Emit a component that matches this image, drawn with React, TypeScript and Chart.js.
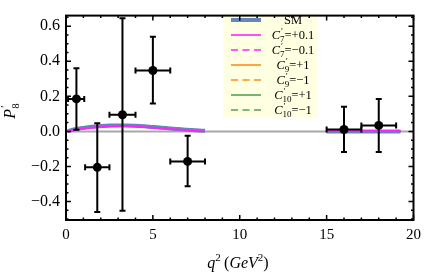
import React, { useEffect, useRef } from "react";
import { Chart, registerables } from "chart.js";

Chart.register(...registerables);

const SERIF = '"Liberation Serif", "Times New Roman", Times, serif';

// ---- axis ticks ----
const xTickValues = [0, 5, 10, 15, 20];
const yTickValues = [-0.4, -0.2, 0.0, 0.2, 0.4, 0.6];

// ---- theory curves (q^2 grid, gap between 8 and 15) ----
const qTheory = [0.1, 0.5, 1, 1.5, 2, 2.5, 3, 3.5, 4, 4.5, 5, 5.5, 6, 6.5, 7, 7.5, 8, 11.5, 15, 16, 17, 18, 19, 19.25];
const smP8 = [0.002, 0.012, 0.020, 0.026, 0.030, 0.033, 0.034, 0.034, 0.032, 0.029, 0.025, 0.021, 0.017, 0.013, 0.010, 0.006, 0.003, null, 0.000, 0.000, 0.000, 0.000, 0.000, 0.000];
const c7PlusP8 = [-0.002, 0.007, 0.015, 0.021, 0.025, 0.028, 0.029, 0.029, 0.027, 0.024, 0.021, 0.017, 0.013, 0.010, 0.007, 0.003, 0.000, null, 0.003, 0.003, 0.003, 0.003, 0.003, 0.003];
const c7MinusP8 = [-0.001, 0.008, 0.016, 0.022, 0.026, 0.029, 0.030, 0.030, 0.028, 0.025, 0.022, 0.018, 0.014, 0.011, 0.007, 0.004, 0.001, null, 0.002, 0.002, 0.002, 0.002, 0.002, 0.002];
const c9PlusP8 = [0.003, 0.014, 0.022, 0.028, 0.032, 0.035, 0.036, 0.036, 0.034, 0.031, 0.027, 0.023, 0.019, 0.015, 0.011, 0.007, 0.004, null, 0.000, 0.000, 0.000, 0.000, 0.000, 0.000];
const c9MinusP8 = [0.002, 0.011, 0.020, 0.026, 0.030, 0.033, 0.034, 0.033, 0.031, 0.028, 0.025, 0.021, 0.017, 0.013, 0.009, 0.006, 0.003, null, 0.000, 0.000, 0.000, 0.000, 0.000, 0.000];
const c10PlusP8 = [0.004, 0.014, 0.023, 0.029, 0.033, 0.036, 0.037, 0.036, 0.034, 0.031, 0.027, 0.023, 0.019, 0.015, 0.011, 0.007, 0.004, null, 0.000, 0.000, 0.000, 0.000, 0.000, 0.000];
const c10MinusP8 = [0.002, 0.011, 0.020, 0.026, 0.030, 0.033, 0.034, 0.034, 0.032, 0.029, 0.025, 0.021, 0.017, 0.013, 0.010, 0.006, 0.003, null, 0.000, 0.000, 0.000, 0.000, 0.000, 0.000];

const seriesValues = [smP8, c7PlusP8, c7MinusP8, c9PlusP8, c9MinusP8, c10PlusP8, c10MinusP8];
const seriesSub = [null, "7", "7", "9", "9", "10", "10"];
const seriesVal = [null, "+0.1", "\u22120.1", "+1", "\u22121", "+1", "\u22121"];
const seriesColors = ["#6686BA", "#FF22FF", "#FF22FF", "#FF8C1E", "#FF8C1E", "#55A055", "#55A055"];
const seriesWidths = [4, 1.6, 1.6, 1.6, 1.6, 1.6, 1.6];
const seriesDashed = [false, false, true, false, true, false, true];
const seriesOrder = [8, 6, 7, 10, 11, 12, 13];

// ---- measurements ----
const binCenter = [0.6, 1.8, 3.25, 5.0, 7.0, 16.0, 18.0];
const binLow = [0.12, 1.1, 2.5, 4.0, 6.0, 15.0, 17.0];
const binHigh = [1.05, 2.5, 4.0, 6.0, 8.0, 17.0, 19.0];
const p8Measured = [0.185, -0.205, 0.095, 0.347, -0.171, 0.011, 0.034];
const p8ErrTop = [0.36, 0.046, 0.645, 0.539, -0.025, 0.141, 0.184];
const p8ErrBottom = [0.010, -0.46, -0.452, 0.159, -0.313, -0.118, -0.118];

function labelFor(i: number) {
  return seriesSub[i] ? `C\u2032${seriesSub[i]}=${seriesVal[i]}` : "SM";
}

const decorPlugin = {
  id: "decor",
  beforeDatasetsDraw(chart: any) {
    const { ctx, chartArea: a, scales } = chart;
    const y0 = scales.y.getPixelForValue(0);
    ctx.save();
    ctx.strokeStyle = "#A8A8A8";
    ctx.lineWidth = 2;
    ctx.beginPath();
    ctx.moveTo(a.left, y0);
    ctx.lineTo(a.right, y0);
    ctx.stroke();
    ctx.restore();
  },
  afterDatasetsDraw(chart: any) {
    const { ctx, chartArea: a, scales } = chart;
    const xs = scales.x, ys = scales.y;
    ctx.save();
    // error bars
    ctx.strokeStyle = "#000";
    ctx.lineWidth = 2;
    ctx.setLineDash([]);
    const cap = 3;
    for (let i = 0; i < binCenter.length; i++) {
      const px = xs.getPixelForValue(binCenter[i]);
      const py = ys.getPixelForValue(p8Measured[i]);
      const yt = ys.getPixelForValue(p8ErrTop[i]);
      const yb = ys.getPixelForValue(p8ErrBottom[i]);
      const xl = xs.getPixelForValue(binLow[i]);
      const xr = xs.getPixelForValue(binHigh[i]);
      ctx.beginPath();
      ctx.moveTo(px, yt); ctx.lineTo(px, yb);
      ctx.moveTo(px - cap, yt); ctx.lineTo(px + cap, yt);
      ctx.moveTo(px - cap, yb); ctx.lineTo(px + cap, yb);
      ctx.moveTo(xl, py); ctx.lineTo(xr, py);
      ctx.moveTo(xl, py - cap); ctx.lineTo(xl, py + cap);
      ctx.moveTo(xr, py - cap); ctx.lineTo(xr, py + cap);
      ctx.stroke();
    }

    // legend
    const lx = 223, ly = 13, lw = 95, lh = 105;
    ctx.fillStyle = "#FFFFE2";
    ctx.fillRect(lx, ly, lw, lh);
    const n = seriesValues.length;
    for (let i = 0; i < n; i++) {
      const ds = chart.data.datasets[i];
      const yy = 20 + 15 * i;
      ctx.strokeStyle = ds.borderColor;
      ctx.lineWidth = ds.borderWidth;
      ctx.setLineDash(ds.borderDash || []);
      ctx.lineCap = "butt";
      ctx.beginPath();
      ctx.moveTo(231, yy);
      ctx.lineTo(261, yy);
      ctx.stroke();
      ctx.setLineDash([]);
      ctx.fillStyle = "#000";
      ctx.textBaseline = "alphabetic";
      ctx.textAlign = "left";
      const cx = 293;
      const base = yy + 4;
      if (!seriesSub[i]) {
        ctx.font = `12.5px ${SERIF}`;
        const w = ctx.measureText("SM").width;
        ctx.fillText("SM", cx - w / 2, base);
      } else {
        const fC = `italic 12.5px ${SERIF}`;
        const fS = `9px ${SERIF}`;
        const fN = `12.5px ${SERIF}`;
        ctx.font = fC; const wC = ctx.measureText("C").width;
        ctx.font = fS; const wP = ctx.measureText("\u2032").width + 1; const wSub = ctx.measureText(seriesSub[i] as string).width;
        const wStack = Math.max(wP, wSub);
        const rest = "=" + seriesVal[i];
        ctx.font = fN; const wR = ctx.measureText(rest).width;
        let x = cx - (wC + wStack + wR) / 2;
        ctx.font = fC; ctx.fillText("C", x, base); x += wC;
        ctx.font = fS; ctx.fillText("\u2032", x + 1, base - 5); ctx.fillText(seriesSub[i] as string, x, base + 3); x += wStack;
        ctx.font = fN; ctx.fillText(rest, x, base);
      }
    }

    // frame
    ctx.strokeStyle = "#000";
    ctx.lineWidth = 2;
    ctx.strokeRect(a.left, a.top, a.right - a.left, a.bottom - a.top);
    // ticks
    ctx.lineWidth = 1.5;
    ctx.beginPath();
    for (let v = 0; v <= 20; v += 1) {
      const px = xs.getPixelForValue(v);
      const len = v % 5 === 0 ? 5 : 2.5;
      ctx.moveTo(px, a.bottom); ctx.lineTo(px, a.bottom - len);
      ctx.moveTo(px, a.top); ctx.lineTo(px, a.top + len);
    }
    for (let k = -10; k <= 13; k++) {
      const v = k * 0.05;
      const py = ys.getPixelForValue(v);
      if (py < a.top || py > a.bottom) continue;
      const len = k % 4 === 0 ? 5 : 2.5;
      ctx.moveTo(a.left, py); ctx.lineTo(a.left + len, py);
      ctx.moveTo(a.right, py); ctx.lineTo(a.right - len, py);
    }
    ctx.stroke();
    ctx.restore();
  },
  afterDraw(chart: any) {
    const { ctx } = chart;
    ctx.save();
    ctx.fillStyle = "#000";
    ctx.textBaseline = "alphabetic";
    ctx.textAlign = "left";
    // x title: q^2 (GeV^2)
    const parts = [
      { t: "q", f: `italic 16px ${SERIF}`, dy: 0 },
      { t: "2", f: `11px ${SERIF}`, dy: -7 },
      { t: "\u2009(", f: `16px ${SERIF}`, dy: 0 },
      { t: "GeV", f: `italic 16px ${SERIF}`, dy: 0 },
      { t: "2", f: `11px ${SERIF}`, dy: -7 },
      { t: ")", f: `16px ${SERIF}`, dy: 0 },
    ];
    let total = 0;
    for (const p of parts) { ctx.font = p.f; total += ctx.measureText(p.t).width; }
    let x = 238 - total / 2;
    const base = 268;
    for (const p of parts) { ctx.font = p.f; ctx.fillText(p.t, x, base + p.dy); x += ctx.measureText(p.t).width; }

    // y title: P'_8 rotated
    ctx.translate(15, 111);
    ctx.rotate(-Math.PI / 2);
    ctx.font = `italic 16px ${SERIF}`;
    const wP = ctx.measureText("P").width;
    ctx.font = `11px ${SERIF}`;
    const w8 = ctx.measureText("8").width;
    const x0 = -(wP + w8) / 2;
    ctx.font = `italic 16px ${SERIF}`;
    ctx.fillText("P", x0, 0);
    ctx.font = `11px ${SERIF}`;
    ctx.fillText("\u2032", x0 + wP + 1, -7);
    ctx.fillText("8", x0 + wP, 4);
    ctx.restore();
  },
};

export default function App() {
  const ref = useRef<HTMLCanvasElement>(null);
  useEffect(() => {
    const curveDatasets = seriesValues.map((vals, i) => ({
      type: "line" as const,
      label: labelFor(i),
      data: qTheory.map((q, j) => ({ x: q, y: vals[j] })),
      borderColor: seriesColors[i],
      borderWidth: seriesWidths[i],
      borderDash: seriesDashed[i] ? [7, 4.5] : [],
      pointRadius: 0,
      tension: 0.4,
      spanGaps: false,
      fill: false,
      order: seriesOrder[i],
    }));
    const pointsDataset = {
      type: "scatter" as const,
      label: "data",
      data: binCenter.map((q, i) => ({ x: q, y: p8Measured[i] })),
      backgroundColor: "#000",
      borderColor: "#000",
      borderWidth: 0,
      pointRadius: 4.5,
      showLine: false,
      order: 0,
    };
    const chart = new Chart(ref.current as HTMLCanvasElement, {
      type: "line",
      data: { datasets: [...curveDatasets, pointsDataset] as any },
      options: {
        animation: false,
        responsive: false,
        maintainAspectRatio: false,
        layout: { padding: { top: 2, right: 8, left: 0, bottom: 0 } },
        plugins: { legend: { display: false }, tooltip: { enabled: false } },
        scales: {
          x: {
            type: "linear",
            min: 0,
            max: 20,
            grid: { display: false, drawTicks: false },
            border: { display: false },
            ticks: { color: "#000", font: { family: SERIF, size: 15 }, padding: 6, maxRotation: 0 },
            afterBuildTicks: (s: any) => { s.ticks = xTickValues.map((v) => ({ value: v })); },
            afterFit: (s: any) => { s.height = 53; },
          },
          y: {
            type: "linear",
            min: -0.505,
            max: 0.66,
            grid: { display: false, drawTicks: false },
            border: { display: false },
            ticks: {
              color: "#000",
              font: { family: SERIF, size: 16 },
              padding: 6,
              callback: (v: any) => (v < -1e-9 ? "\u2212" : "") + Math.abs(Number(v)).toFixed(1),
            },
            afterBuildTicks: (s: any) => { s.ticks = yTickValues.map((v) => ({ value: v })); },
            afterFit: (s: any) => { s.width = 66; },
          },
        },
      } as any,
      plugins: [decorPlugin],
    });
    return () => chart.destroy();
  }, []);
  return (
    <div style={{ position: "absolute", left: 0, top: 0, width: 427, height: 273, background: "#fff" }}>
      <canvas ref={ref} width={427} height={273} style={{ display: "block", width: 427, height: 273 }} />
    </div>
  );
}
